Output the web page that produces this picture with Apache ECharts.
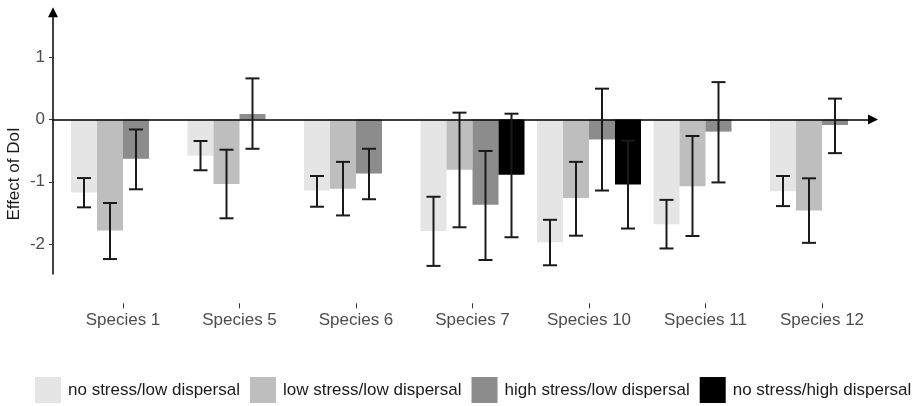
<!DOCTYPE html>
<html>
<head>
<meta charset="utf-8">
<script src="https://cdn.jsdelivr.net/npm/echarts@6/dist/echarts.min.js"></script>
<style>html,body{margin:0;padding:0;background:#fff;}#c{width:921px;height:406px;}</style>
</head>
<body>
<div id="c"></div>
<script>
// ---- data ----
const categories = ['Species 1','Species 5','Species 6','Species 7','Species 10','Species 11','Species 12'];
const seriesNames = ['no stress/low dispersal','low stress/low dispersal','high stress/low dispersal','no stress/high dispersal'];
const yTicks = [-2, -1, 0, 1];

const noStressLow   = [-1.17, -0.58, -1.14, -1.79, -1.97, -1.68, -1.15];
const noStressLowLo = [-1.41, -0.815, -1.40, -2.35, -2.34, -2.07, -1.39];
const noStressLowHi = [-0.94, -0.345, -0.907, -1.24, -1.61, -1.29, -0.907];

const lowStressLow   = [-1.78, -1.035, -1.11, -0.805, -1.26, -1.07, -1.46];
const lowStressLowLo = [-2.24, -1.586, -1.54, -1.73, -1.865, -1.87, -1.98];
const lowStressLowHi = [-1.34, -0.485, -0.68, 0.11, -0.68, -0.265, -0.944];

const highStressLow   = [-0.63, 0.088, -0.865, -1.37, -0.32, -0.195, -0.088];
const highStressLowLo = [-1.12, -0.47, -1.28, -2.255, -1.14, -1.01, -0.54];
const highStressLowHi = [-0.16, 0.66, -0.47, -0.505, 0.495, 0.60, 0.335];

const noStressHigh   = [null, null, null, -0.886, -1.045, null, null];
const noStressHighLo = [null, null, null, -1.89, -1.75, null, null];
const noStressHighHi = [null, null, null, 0.093, -0.34, null, null];

// ---- layout / style ----
const colors = ['#e5e5e5', '#bebebe', '#8c8c8c', '#000000'];
const ZERO_Y = 119.5, UNIT = 62.3;
const panelMax = 1.8, panelMin = -2.95;
const axisMax = 1.72, axisMin = -2.48;
const BAR_W = 26, CAP_W = 14;
const FONT = '"Liberation Sans", Arial, sans-serif';

const means = [noStressLow, lowStressLow, highStressLow, noStressHigh];
const los = [noStressLowLo, lowStressLowLo, highStressLowLo, noStressHighLo];
const his = [noStressLowHi, lowStressLowHi, highStressLowHi, noStressHighHi];

const chart = echarts.init(document.getElementById('c'), null, {renderer: 'canvas'});

function errRender(sIdx) {
  return function (params, api) {
    const a = api.coord([api.value(0), api.value(1)]);
    const b = api.coord([api.value(0), api.value(2)]);
    const x = a[0] + (sIdx - 1.5) * BAR_W;
    const st = {stroke: '#1a1a1a', lineWidth: 2};
    return {
      type: 'group',
      children: [
        {type: 'line', shape: {x1: x, y1: a[1], x2: x, y2: b[1]}, style: st},
        {type: 'line', shape: {x1: x - CAP_W / 2, y1: a[1], x2: x + CAP_W / 2, y2: a[1]}, style: st},
        {type: 'line', shape: {x1: x - CAP_W / 2, y1: b[1], x2: x + CAP_W / 2, y2: b[1]}, style: st}
      ]
    };
  };
}

const series = [];
means.forEach((m, i) => {
  series.push({
    name: seriesNames[i], type: 'bar', xAxisIndex: 0, yAxisIndex: 0,
    data: m, barWidth: BAR_W, barGap: '0%',
    itemStyle: {color: colors[i]}, z: 2, silent: true
  });
});
means.forEach((m, i) => {
  const d = [];
  m.forEach((v, k) => { if (v !== null) d.push([k, los[i][k], his[i][k]]); });
  series.push({
    type: 'custom', xAxisIndex: 0, yAxisIndex: 0, z: 6, silent: true,
    renderItem: errRender(i), data: d, encode: {x: 0, y: [1, 2]}
  });
});

const option = {
  animation: false,
  backgroundColor: '#ffffff',
  textStyle: {fontFamily: FONT},
  grid: [
    {left: 64.75, right: 40.75, top: ZERO_Y - panelMax * UNIT, height: (panelMax - panelMin) * UNIT},
    {left: 53, right: 48, top: ZERO_Y - axisMax * UNIT, height: (axisMax - axisMin) * UNIT}
  ],
  xAxis: [
    {
      type: 'category', gridIndex: 0, data: categories,
      axisLine: {show: true, onZero: false, lineStyle: {color: 'rgba(0,0,0,0)', width: 0}},
      axisTick: {show: true, alignWithLabel: true, length: 5, lineStyle: {color: '#333', width: 1}},
      axisLabel: {color: '#4d4d4d', fontSize: 17, margin: 9, fontFamily: FONT},
      splitLine: {show: false}
    },
    {
      type: 'value', gridIndex: 1, min: 0, max: 1, z: 4,
      axisLine: {show: true, onZero: true, symbol: ['none', 'triangle'], symbolSize: [10, 10],
        lineStyle: {color: '#000', width: 1.5}},
      axisTick: {show: false}, axisLabel: {show: false}, splitLine: {show: false}
    }
  ],
  yAxis: [
    {type: 'value', gridIndex: 0, min: panelMin, max: panelMax, show: false, splitLine: {show: false}},
    {
      type: 'value', gridIndex: 1, min: axisMin, max: axisMax, z: 4,
      axisLine: {show: true, onZero: false, symbol: ['none', 'triangle'], symbolSize: [10, 10],
        lineStyle: {color: '#000', width: 1.5}},
      axisTick: {show: true, length: 4, customValues: yTicks, lineStyle: {color: '#333'}},
      axisLabel: {show: true, customValues: yTicks, color: '#4d4d4d', fontSize: 17, margin: 8, fontFamily: FONT},
      splitLine: {show: false}
    }
  ],
  legend: {
    left: 35, top: 377, padding: 0, itemWidth: 26, itemHeight: 26, itemGap: 10,
    data: seriesNames.map(n => ({name: n, icon: 'rect'})),
    textStyle: {fontSize: 17, color: '#1a1a1a', fontFamily: FONT, padding: [0, 0, 0, 2]},
    selectedMode: false
  },
  graphic: [
    {type: 'text', x: 14, y: 174, rotation: Math.PI / 2,
      style: {text: 'Effect of DoI', fontSize: 17, fill: '#1a1a1a', fontFamily: FONT,
        align: 'center', verticalAlign: 'middle'}}
  ],
  series: series
};
chart.setOption(option);
</script>
</body>
</html>
